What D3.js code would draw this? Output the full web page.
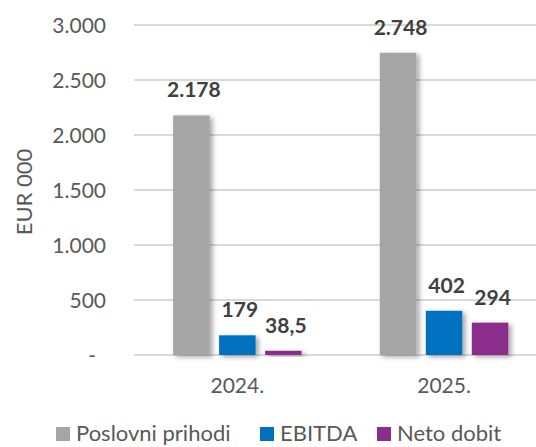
<!DOCTYPE html>
<html>
<head>
<meta charset="utf-8">
<script src="https://cdn.jsdelivr.net/npm/d3@7"></script>
<style>
  html, body { margin: 0; padding: 0; background: #ffffff; }
  svg { display: block; }
  text { font-family: Lato, "Noto Sans", sans-serif; }
</style>
</head>
<body>
<script>
// ---- data ----
const categories = ["2024.", "2025."];
const seriesNames = ["Poslovni prihodi", "EBITDA", "Neto dobit"];
const poslovniPrihodi = [2178, 2748];
const ebitda = [179, 402];
const netoDobit = [38.5, 294];
const yTicks = [0, 500, 1000, 1500, 2000, 2500, 3000];
const yTitle = "EUR 000";
const colors = ["#A5A5A5", "#0070C0", "#8B2D8B"];

const seriesValues = [poslovniPrihodi, ebitda, netoDobit];

const W = 536, H = 447;
const svg = d3.select("body").append("svg").attr("width", W).attr("height", H);

const defs = svg.append("defs");
const f = defs.append("filter").attr("id", "shadow")
  .attr("x", "-30%").attr("y", "-30%").attr("width", "160%").attr("height", "160%");
f.append("feDropShadow").attr("dx", 3).attr("dy", 2).attr("stdDeviation", 2.5)
  .attr("flood-color", "#000").attr("flood-opacity", 0.35);

const loc = d3.formatLocale({ decimal: ",", thousands: ".", grouping: [3], currency: ["", ""] });
const fmtInt = loc.format(",d");
const fmtDec = loc.format(",.1f");
const fmtVal = v => Number.isInteger(v) ? fmtInt(v) : fmtDec(v);

const y = d3.scaleLinear().domain([0, 3000]).range([355, 25]);
const x0 = d3.scaleBand().domain(categories).range([134, 547.4]).padding(0);
const x1 = d3.scaleBand().domain(seriesNames).range([0, x0.bandwidth()])
  .paddingInner(0.207).paddingOuter(0.85);

// gridlines
svg.append("g").selectAll("line").data(yTicks).join("line")
  .attr("x1", 134).attr("x2", W)
  .attr("y1", d => y(d)).attr("y2", d => y(d))
  .attr("stroke", "#D9D9D9").attr("stroke-width", 2);

// y tick labels
svg.append("g").selectAll("text").data(yTicks).join("text")
  .attr("x", d => d === 0 ? 96 : 106)
  .attr("y", d => y(d))
  .attr("dy", "0.36em")
  .attr("text-anchor", "end")
  .attr("font-size", 21)
  .attr("fill", "#595959")
  .text(d => d === 0 ? "-" : fmtInt(d));

// y title
svg.append("text")
  .attr("transform", "translate(32,192) rotate(-90)")
  .attr("text-anchor", "middle")
  .attr("font-size", 22)
  .attr("fill", "#595959")
  .text(yTitle);

// bars
const rows = [];
categories.forEach((c, i) => {
  seriesNames.forEach((s, j) => rows.push({ cat: c, ser: s, j, v: seriesValues[j][i] }));
});

svg.append("g").selectAll("rect").data(rows).join("rect")
  .attr("x", d => x0(d.cat) + x1(d.ser))
  .attr("y", d => y(d.v))
  .attr("width", x1.bandwidth())
  .attr("height", d => y(0) - y(d.v))
  .attr("fill", d => colors[d.j])
  .attr("filter", "url(#shadow)");

// data labels
svg.append("g").selectAll("text").data(rows).join("text")
  .attr("x", d => x0(d.cat) + x1(d.ser) + x1.bandwidth() / 2 + 2.5)
  .attr("y", d => y(d.v) - 18)
  .attr("text-anchor", "middle")
  .attr("font-size", 21)
  .attr("font-weight", "bold")
  .attr("fill", "#404040")
  .text(d => fmtVal(d.v));

// x labels
svg.append("g").selectAll("text").data(categories).join("text")
  .attr("x", d => x0(d) + x0.bandwidth() / 2)
  .attr("y", 393)
  .attr("text-anchor", "middle")
  .attr("font-size", 21)
  .attr("fill", "#595959")
  .text(d => d);

// legend
const legendX = [56, 260, 377];
const lg = svg.append("g").selectAll("g").data(seriesNames).join("g")
  .attr("transform", (d, i) => `translate(${legendX[i]},0)`);
lg.append("rect").attr("x", 0).attr("y", 427).attr("width", 14).attr("height", 14)
  .attr("fill", (d, i) => colors[i]);
lg.append("text").attr("x", 20).attr("y", 441)
  .attr("font-size", 22).attr("fill", "#595959")
  .text(d => d);
</script>
</body>
</html>
